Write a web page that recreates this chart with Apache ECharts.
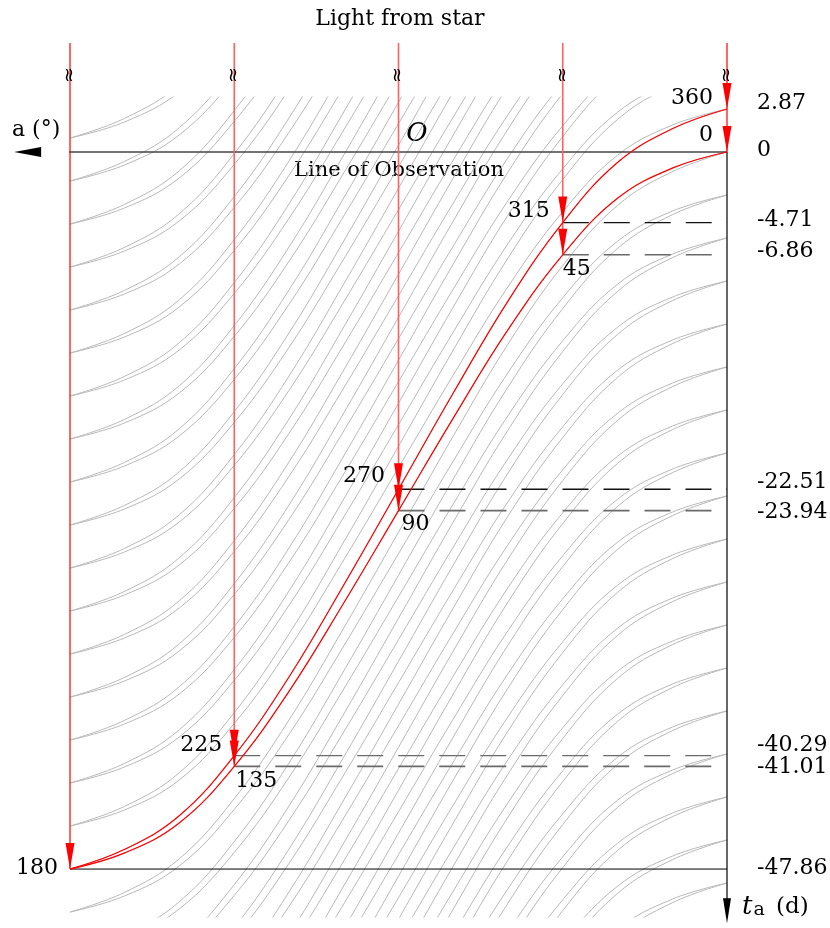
<!DOCTYPE html>
<html><head><meta charset="utf-8">
<script src="https://cdn.jsdelivr.net/npm/echarts@6/dist/echarts.min.js"></script>
<style>html,body{margin:0;padding:0;background:#fff}#c{width:830px;height:928px}</style>
</head><body><div id="c"></div>
<script>
// ---- data ----
const angles = [0, 15, 30, 45, 60, 75, 90, 105, 120, 135, 150, 165, 180];
const lowerT = [0, -1.08, -3.09, -6.86, -11.86, -17.76, -23.94, -30.10, -36.00, -41.01, -44.77, -46.78, -47.86];
const upperT = [2.87, 1.55, -0.70, -4.71, -9.95, -16.09, -22.51, -28.90, -35.04, -40.29, -44.29, -46.54, -47.86];
const keyAngles = [0, 45, 90, 135, 180];
const keyUpperLabels = ['360', '315', '270', '225', '180'];
const keyLowerLabels = ['0', '45', '90', '135', '180'];
const keyUpperT = [2.87, -4.71, -22.51, -40.29, -47.86];
const keyLowerT = [0, -6.86, -23.94, -41.01, -47.86];
const period = 2.87;
const tickValues = [2.87, 0, -4.71, -6.86, -22.51, -23.94, -40.29, -41.01, -47.86];
const tickLabels = ['2.87', '0', '-4.71', '-6.86', '-22.51', '-23.94', '-40.29', '-41.01', '-47.86'];

// ---- layout constants ----
const FONT = 'DejaVu Serif';
const yMax = 3.67, yMin = -51.06;      // clipped hatch region
const topT = 7.28;                     // top of "light" rays
const breakT = 5.14;                   // break marks on rays
const axisLeftA = 195.3;               // end of observation axis arrow
const axisBottomT = -51.47;            // end of time axis arrow

const chart = echarts.init(document.getElementById('c'), null, {renderer: 'canvas', width: 830, height: 928});
const series = [];
const solid = {opacity: 1};

// gray hatch: copies of both curves shifted by the period
for (let k = -19; k <= 18; k++) {
  [upperT, lowerT].forEach(arr => {
    series.push({
      type: 'line', silent: true, clip: true, symbol: 'none', smooth: 0.4, z: 1,
      data: angles.map((a, i) => [a, arr[i] + k * period]),
      lineStyle: {color: '#b8b8b8', width: 1}
    });
  });
}

// axes lines
series.push({type: 'line', silent: true, clip: false, symbol: 'none', z: 4,
  data: [[0, 0], [axisLeftA, 0]], lineStyle: {color: '#444', width: 1.6}});
series.push({type: 'line', silent: true, clip: false, symbol: 'none', z: 4,
  data: [[0, 0], [0, axisBottomT + 1]], lineStyle: {color: '#000', width: 1.2}});
series.push({type: 'line', silent: true, clip: false, symbol: 'none', z: 4,
  data: [[keyAngles[4], keyLowerT[4]], [0, keyLowerT[4]]], lineStyle: {color: '#000', width: 1}});

// dashed projection lines
for (let i = 1; i <= 3; i++) {
  series.push({type: 'line', silent: true, clip: false, symbol: 'none', z: 4,
    data: [[keyAngles[i], keyUpperT[i]], [0, keyUpperT[i]]],
    lineStyle: {color: i === 3 ? '#6a6a6a' : '#111', width: 1.3, type: [26, 15]}});
  series.push({type: 'line', silent: true, clip: false, symbol: 'none', z: 4,
    data: [[keyAngles[i], keyLowerT[i]], [0, keyLowerT[i]]],
    lineStyle: {color: '#6a6a6a', width: 1.6, type: [26, 15]}});
}

// red curves
[upperT, lowerT].forEach(arr => {
  series.push({type: 'line', silent: true, clip: false, symbol: 'none', smooth: 0.4, z: 6,
    data: angles.map((a, i) => [a, arr[i]]), lineStyle: {color: '#ff0000', width: 1.2}});
});

// red rays from the star
keyAngles.forEach((a, i) => {
  const strong = (i === 0 || i === 4);
  series.push({type: 'line', silent: true, clip: false, symbol: 'none', z: 5,
    data: [[a, topT], [a, keyLowerT[i]]],
    lineStyle: {color: strong ? '#ff0000' : '#ff6262', width: strong ? 1.2 : 1.6}});
});

// arrow heads on rays
const tips = [];
keyAngles.forEach((a, i) => {
  tips.push([a, keyUpperT[i]]);
  if (keyLowerT[i] !== keyUpperT[i]) tips.push([a, keyLowerT[i]]);
});
series.push({type: 'scatter', silent: true, clip: false, z: 8,
  symbol: 'path://M0,0 L10,0 L5,26 Z', symbolSize: [9, 26], symbolOffset: [0, '-50%'],
  itemStyle: {color: '#ff0000', opacity: 1}, data: tips});

// axis arrow heads
series.push({type: 'scatter', silent: true, clip: false, z: 8,
  symbol: 'path://M0,5 L26,0 L26,10 Z', symbolSize: [27, 10], symbolOffset: ['50%', 0],
  itemStyle: {color: '#000', opacity: 1}, data: [[axisLeftA, 0]]});
series.push({type: 'scatter', silent: true, clip: false, z: 8,
  symbol: 'path://M0,0 L8,0 L4,25 Z', symbolSize: [8, 25], symbolOffset: [0, '-50%'],
  itemStyle: {color: '#000', opacity: 1}, data: [[0, axisBottomT]]});

// break marks
series.push({type: 'scatter', silent: true, clip: false, z: 9, symbolSize: 0, itemStyle: solid,
  data: keyAngles.map(a => [a, breakT]),
  label: {show: true, formatter: '≈', rotate: 90, position: 'inside', color: '#000', fontSize: 19, fontFamily: 'DejaVu Sans'}});

// point labels
const upOff = [[14, -10.5], [13, -11], [13.5, -13], [12, -10], [12, -1]];
const loOff = [[14, -16.5], [0, 15], [3, 14], [1, 15]];
const labelData = [];
keyAngles.forEach((a, i) => {
  labelData.push({value: [a, keyUpperT[i]], label: {formatter: keyUpperLabels[i], position: 'left', distance: upOff[i][0], offset: [0, upOff[i][1]]}});
  if (i < 4) {
    labelData.push({value: [a, keyLowerT[i]], label: {formatter: keyLowerLabels[i], position: i === 0 ? 'left' : 'right', distance: loOff[i][0], offset: [0, loOff[i][1]]}});
  }
});
series.push({type: 'scatter', silent: true, clip: false, z: 9, symbolSize: 0, itemStyle: solid, data: labelData,
  label: {show: true, color: '#000', fontSize: 22, fontFamily: FONT}});

// time tick labels on the right
const tickOff = [-5.5, -2, -2.6, -3.3, -7, 1.5, -10.6, 0.7, -1];
series.push({type: 'scatter', silent: true, clip: false, z: 9, symbolSize: 0, itemStyle: solid,
  data: tickValues.map((v, i) => ({value: [0, v], label: {formatter: tickLabels[i], offset: [0, tickOff[i]]}})),
  label: {show: true, position: 'right', distance: 30, color: '#000', fontSize: 22, fontFamily: FONT}});

// time axis name
series.push({type: 'scatter', silent: true, clip: false, z: 9, symbolSize: 0, itemStyle: solid,
  data: [{value: [0, axisBottomT], label: {formatter: '{t|t}{s|a}{d| (d)}'}}],
  label: {show: true, position: 'right', distance: 15, offset: [0, -16], color: '#000', fontSize: 22, fontFamily: FONT,
    rich: {t: {fontStyle: 'italic', fontSize: 26, fontFamily: FONT, color: '#000'},
           s: {fontSize: 19, fontFamily: FONT, color: '#000', padding: [5, 0, 0, 1]},
           d: {fontSize: 23, fontFamily: FONT, color: '#000', padding: [0, 0, 0, 4]}}}});

const option = {
  animation: false,
  backgroundColor: '#fff',
  grid: {left: 70, right: 103, top: 97, bottom: 11, outerBoundsMode: 'none'},
  xAxis: {type: 'value', min: 0, max: 180, inverse: true, show: false},
  yAxis: {type: 'value', min: yMin, max: yMax, show: false},
  graphic: [
    {type: 'text', x: 400, y: 19, style: {text: 'Light from star', font: '22px "DejaVu Serif"', fill: '#000', align: 'center', verticalAlign: 'middle'}},
    {type: 'text', x: 12, y: 130, style: {text: 'a (°)', font: '22px "DejaVu Serif"', fill: '#000', align: 'left', verticalAlign: 'middle'}},
    {type: 'text', x: 417, y: 134, style: {text: 'O', font: 'italic 26px "DejaVu Serif"', fill: '#000', align: 'center', verticalAlign: 'middle'}},
    {type: 'text', x: 399, y: 171, style: {text: 'Line of Observation', font: '21px "DejaVu Serif"', fill: '#000', align: 'center', verticalAlign: 'middle'}}
  ],
  series: series
};
chart.setOption(option);
</script></body></html>
